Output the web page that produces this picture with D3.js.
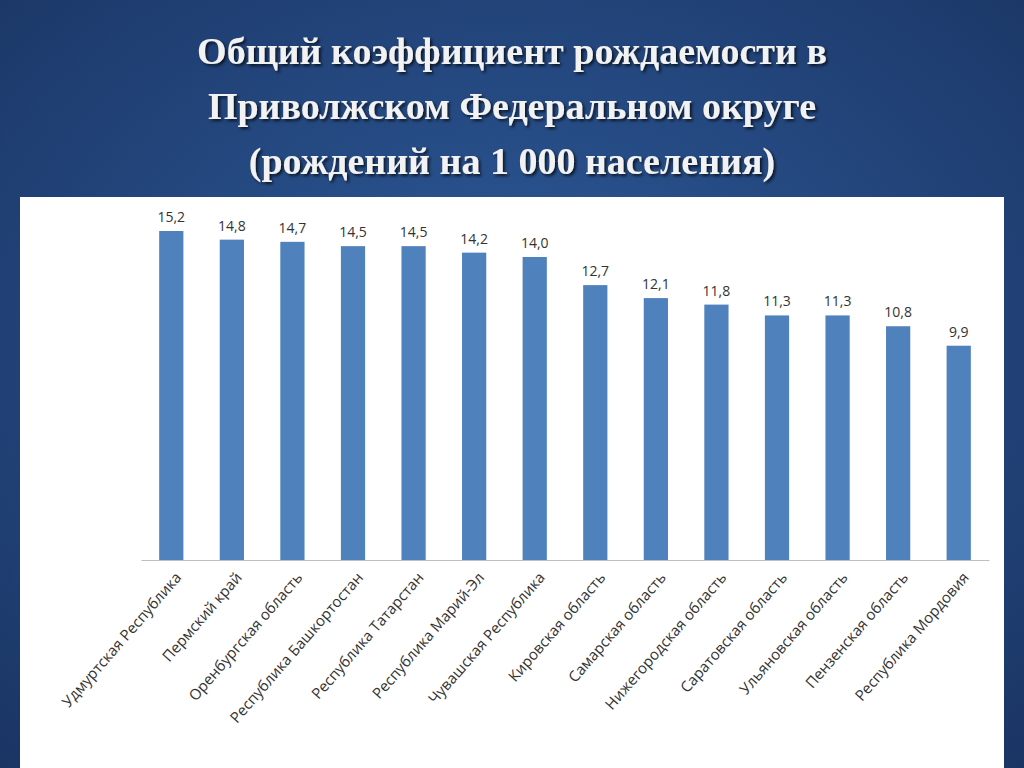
<!DOCTYPE html>
<html><head><meta charset="utf-8">
<script src="https://cdn.jsdelivr.net/npm/d3@7"></script>
<style>body{margin:0;overflow:hidden}</style>
</head><body>
<svg id="c" width="1024" height="768"></svg>
<script>
const categories = ["Удмуртская Республика","Пермский край","Оренбургская область","Республика Башкортостан","Республика Татарстан","Республика Марий-Эл","Чувашская Республика","Кировская область","Самарская область","Нижегородская область","Саратовская область","Ульяновская область","Пензенская область","Республика Мордовия"];
const values = [15.2,14.8,14.7,14.5,14.5,14.2,14.0,12.7,12.1,11.8,11.3,11.3,10.8,9.9];
const titleLines = ["Общий коэффициент рождаемости в","Приволжском Федеральном округе","(рождений на 1 000 населения)"];

const svg = d3.select("#c");
const defs = svg.append("defs");
const g = defs.append("radialGradient").attr("id","bg").attr("cx","50%").attr("cy","45%").attr("r","75%");
g.append("stop").attr("offset","0%").attr("stop-color","#2d5a99");
g.append("stop").attr("offset","100%").attr("stop-color","#1a3463");
const f = defs.append("filter").attr("id","sh");
f.append("feDropShadow").attr("dx",2).attr("dy",2).attr("stdDeviation",1.5).attr("flood-color","#000").attr("flood-opacity",0.7);
svg.append("rect").attr("width",1024).attr("height",768).attr("fill","url(#bg)");
svg.append("rect").attr("x",20).attr("y",197).attr("width",984).attr("height",571).attr("fill","#fff");

svg.selectAll("text.t").data(titleLines).enter().append("text")
  .attr("x",512).attr("y",(d,i)=>64+i*55).attr("text-anchor","middle")
  .attr("font-family","Liberation Serif").attr("font-weight","bold").attr("font-size",38)
  .attr("fill","#f2f2f2").attr("filter","url(#sh)").text(d=>d);

const x = d3.scaleBand().domain(categories).range([141,989]).paddingInner(0.6).paddingOuter(0.3);
const y = d3.scaleLinear().domain([0,15.2]).range([560,231]);

svg.append("g").selectAll("rect").data(values).enter().append("rect")
  .attr("x",(d,i)=>x(categories[i])).attr("width",x.bandwidth())
  .attr("y",d=>y(d)).attr("height",d=>560-y(d)).attr("fill","#4f81bd");

svg.append("g").selectAll("text").data(values).enter().append("text")
  .attr("x",(d,i)=>x(categories[i])+x.bandwidth()/2).attr("y",d=>y(d)-9)
  .attr("text-anchor","middle").attr("font-family","Open Sans").attr("font-size",14).attr("fill","#333")
  .text(d=>d3.format(".1f")(d).replace(".",","));

const ax = svg.append("g").attr("transform","translate(0,560)").call(d3.axisBottom(x).tickSize(0).tickPadding(0));
ax.select(".domain").attr("stroke","#bfbfbf");
ax.selectAll("text").attr("font-family","Open Sans").attr("font-size",15).attr("fill","#333")
  .attr("text-anchor","end").attr("dy",0).attr("transform","translate(11,18) rotate(-49)");
</script>
</body></html>
